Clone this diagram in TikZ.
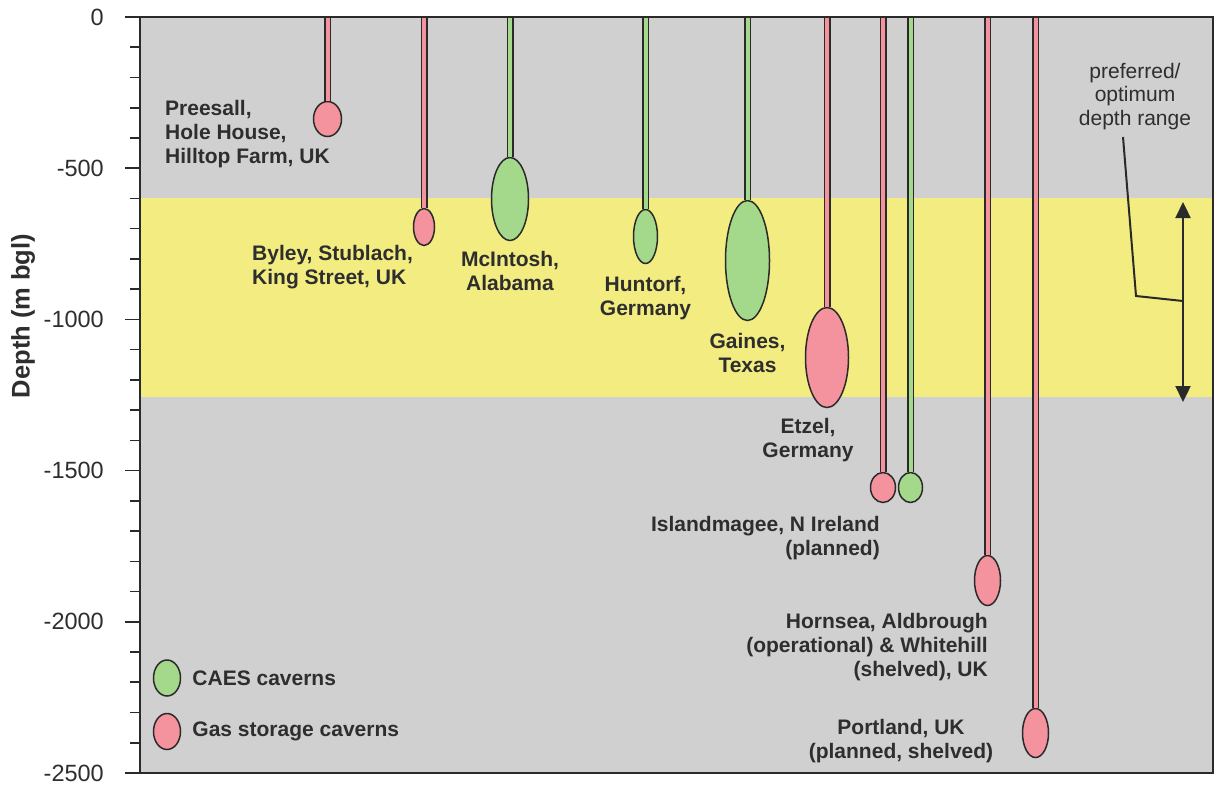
\documentclass[tikz,border=0pt]{standalone}
\usepackage{fontspec}
\setmainfont{Liberation Sans}
\usetikzlibrary{shapes}
\usetikzlibrary{arrows.meta}
\usetikzlibrary{positioning}

\definecolor{rockgrey}{HTML}{D0D0D0}
\definecolor{bandyellow}{HTML}{F3EC80}
\definecolor{gaspink}{HTML}{F4939E}
\definecolor{caesgreen}{HTML}{A4D98C}
\definecolor{outline}{HTML}{2A2A2A}
\definecolor{labeltext}{HTML}{2E2E2E}

\begin{document}
\begin{tikzpicture}
        [x=1pt, y=-1pt,
         cavern/.style={ellipse, draw=outline, line width=1.5pt, inner sep=0pt},
         gas/.style={cavern, fill=gaspink},
         caes/.style={cavern, fill=caesgreen},
         gasshaft/.style={draw=outline, line width=1.5pt, double=gaspink, double distance=4pt},
         caesshaft/.style={draw=outline, line width=1.5pt, double=caesgreen, double distance=4pt},
         site/.style={text=labeltext, font=\bfseries\fontsize{21}{23.8}\selectfont, inner sep=0pt},
         depthlabel/.style={text=labeltext, font=\fontsize{23.5}{26}\selectfont, inner sep=0pt, anchor=east}]
        \useasboundingbox (0,0) rectangle (1215,785);
        \fill [rockgrey] (140,17) rectangle (1213,773);
        \fill [bandyellow] (140,198) rectangle (1213,397);

        \node [gas, minimum width=28pt, minimum height=35pt] (preesall) at (327.5,119) { };
        \node [gas, minimum width=21pt, minimum height=37pt] (byley) at (424,227) { };
        \node [caes, minimum width=37pt, minimum height=83pt] (mcintosh) at (510,199) { };
        \node [caes, minimum width=24pt, minimum height=54pt] (huntorf) at (645.5,236.5) { };
        \node [caes, minimum width=44pt, minimum height=120pt] (gaines) at (747.5,260.5) { };
        \node [gas, minimum width=43pt, minimum height=100pt] (etzel) at (827,357.5) { };
        \node [gas, minimum width=25pt, minimum height=30pt] (islandgas) at (883,487.5) { };
        \node [caes, minimum width=24pt, minimum height=30pt] (islandcaes) at (910.5,487.5) { };
        \node [gas, minimum width=26pt, minimum height=50pt] (hornsea) at (987.5,580.5) { };
        \node [gas, minimum width=26pt, minimum height=49pt] (portland) at (1035.5,733) { };

        \coordinate (preesalltop) at (327.5,17);
        \coordinate (byleytop) at (424,17);
        \coordinate (mcintoshtop) at (510,17);
        \coordinate (huntorftop) at (645.5,17);
        \coordinate (gainestop) at (747.5,17);
        \coordinate (etzeltop) at (827,17);
        \coordinate (islandgastop) at (883,17);
        \coordinate (islandcaestop) at (910.5,17);
        \coordinate (hornseatop) at (987.5,17);
        \coordinate (portlandtop) at (1035.5,17);
        \draw [gasshaft] (preesalltop) -- (preesall.north);
        \draw [gasshaft] (byleytop) -- (byley.north);
        \draw [caesshaft] (mcintoshtop) -- (mcintosh.north);
        \draw [caesshaft] (huntorftop) -- (huntorf.north);
        \draw [caesshaft] (gainestop) -- (gaines.north);
        \draw [gasshaft] (etzeltop) -- (etzel.north);
        \draw [gasshaft] (islandgastop) -- (islandgas.north);
        \draw [caesshaft] (islandcaestop) -- (islandcaes.north);
        \draw [gasshaft] (hornseatop) -- (hornsea.north);
        \draw [gasshaft] (portlandtop) -- (portland.north);

        \draw [outline, line width=2pt] (125,17) -- (1213,17) -- (1213,773) -- (125,773);
        \draw [outline, line width=2.5pt] (140,17) -- (140,773);
        \foreach \d in {0,100,...,2500}
            \draw [outline, line width=1.6pt] (130,{17+\d*0.3024}) -- (140,{17+\d*0.3024});
        \foreach \d/\t in {0/0,500/-500,1000/-1000,1500/-1500,2000/-2000,2500/-2500} {
            \draw [outline, line width=1.6pt] (125,{17+\d*0.3024}) -- (140,{17+\d*0.3024});
            \node [depthlabel] at (104,{17+\d*0.3024}) {\t};
        }
        \node [rotate=90, text=labeltext, font=\bfseries\fontsize{25.5}{28}\selectfont] (depthtitle) at (23,316) {Depth (m bgl)};

        \node [site, anchor=north west, align=left] (preesalltext) at (165,100) {Preesall,\\Hole House,\\Hilltop Farm, UK};
        \node [site, anchor=north west, align=left] (byleytext) at (252,245) {Byley, Stublach,\\King Street, UK};
        \node [site, align=center, below=10pt of mcintosh] (mcintoshtext) {McIntosh,\\Alabama};
        \node [site, align=center, below=12pt of huntorf] (huntorftext) {Huntorf,\\Germany};
        \node [site, align=center, below=12pt of gaines] (gainestext) {Gaines,\\Texas};
        \node [site, anchor=north, align=center] (etzeltext) at (808,418) {Etzel,\\Germany};
        \node [site, anchor=north east, align=right] (islandtext) at (880,516) {Islandmagee, N Ireland\\(planned)};
        \node [site, anchor=north east, align=right] (hornseatext) at (988,613) {Hornsea, Aldbrough\\(operational) \& Whitehill\\(shelved), UK};
        \node [site, anchor=north, align=center] (portlandtext) at (901,719) {Portland, UK\\(planned, shelved)};

        \node [caes, minimum width=27pt, minimum height=36pt] (caeskey) at (167,678) { };
        \node [site, right=11pt of caeskey] (caeskeytext) {CAES caverns};
        \node [gas, minimum width=27pt, minimum height=36pt] (gaskey) at (167,731.5) { };
        \node [site, right=11pt of gaskey] (gaskeytext) {Gas storage caverns};

        \node [text=labeltext, font=\fontsize{21}{23.5}\selectfont, align=center, inner sep=0pt, anchor=north] (rangetext) at (1135,63) {preferred/\\optimum\\depth range};
        \coordinate (rangetop) at (1183,202);
        \coordinate (rangebot) at (1183,402);
        \coordinate (rangemid) at (1183,301);
        \coordinate (leaderstart) at (1123,137);
        \draw [outline, line width=2.3pt, {Triangle[length=16pt,width=15pt]}-{Triangle[length=16pt,width=15pt]}] (rangetop) -- (rangebot);
        \draw [outline, line width=2pt] (leaderstart) -- (1136,296) -- (rangemid);
\end{tikzpicture}
\end{document}
